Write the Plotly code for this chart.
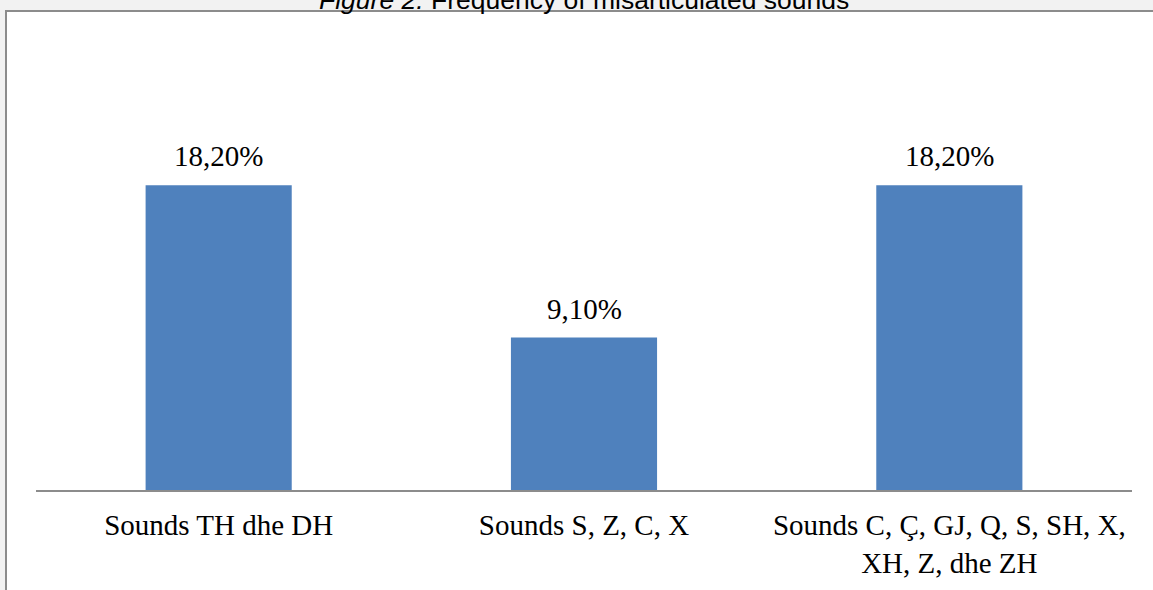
import plotly.graph_objects as go

categories = ["Sounds TH dhe DH", "Sounds S, Z, C, X", "Sounds C, Ç, GJ, Q, S, SH, X, XH, Z, dhe ZH"]
tick_labels = ["Sounds TH dhe DH", "Sounds S, Z, C, X", "Sounds C, Ç, GJ, Q, S, SH, X,<br>XH, Z, dhe ZH"]
values = [0.182, 0.091, 0.182]
value_labels = ["18,20%", "9,10%", "18,20%"]
title_text = "<i>Figure 2.</i> Frequency of misarticulated sounds"

W, H = 1153, 590
L, R, T, B = 36, 21, 155, 100
pw, ph = W - L - R, H - T - B

def px_x(p):
    return (p - L) / pw

def px_y(p):
    return (H - B - p) / ph

fig = go.Figure()
fig.add_trace(go.Bar(
    x=categories, y=values,
    marker=dict(color="#4f81bd", line=dict(width=0)),
    hoverinfo="skip",
))

for c, v, lab in zip(categories, values, value_labels):
    fig.add_annotation(x=c, y=v, xref="x", yref="y", text=lab, showarrow=False,
                       yanchor="bottom", yshift=11,
                       font=dict(family="Liberation Serif", size=29, color="#000000"))

fig.add_annotation(x=0.5, y=px_y(17.5), xref="paper", yref="paper", text=title_text,
                   showarrow=False, xanchor="center", yanchor="bottom",
                   font=dict(family="Liberation Sans", size=26.5, color="#000000"))

fig.add_shape(type="rect", xref="paper", yref="paper", layer="below",
              x0=px_x(6), x1=px_x(W + 20), y0=px_y(H + 20), y1=px_y(11),
              fillcolor="#ffffff", line=dict(color="#8c8c8c", width=2))

fig.update_layout(
    width=W, height=H,
    margin=dict(l=L, r=R, t=T, b=B, autoexpand=False),
    paper_bgcolor="#f2f2f2",
    plot_bgcolor="rgba(0,0,0,0)",
    bargap=0.6,
    showlegend=False,
    hovermode=False,
    xaxis=dict(showline=True, linecolor="#8c8c8c", linewidth=2, ticks="",
               tickmode="array", tickvals=categories, ticktext=tick_labels,
               ticklabelstandoff=8,
               tickfont=dict(family="Liberation Serif", size=29, color="#000000"),
               showgrid=False, zeroline=False, fixedrange=True),
    yaxis=dict(range=[0, 0.2], visible=False, showgrid=False, zeroline=False, fixedrange=True),
)

fig.write_html("out.html", config={"displayModeBar": False},
               post_script="document.body.style.margin='0px';document.body.style.overflow='hidden';")
